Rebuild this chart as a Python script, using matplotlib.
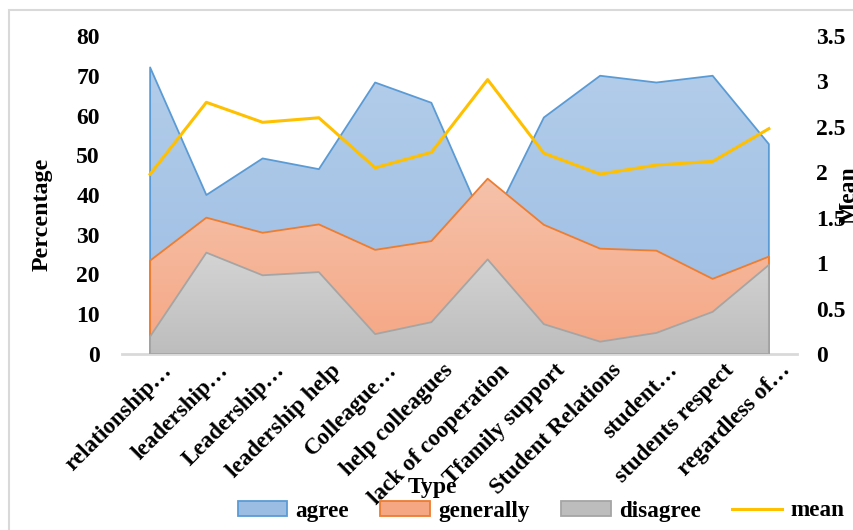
import numpy as np
import matplotlib.pyplot as plt
from matplotlib.patches import Rectangle
from matplotlib.colors import LinearSegmentedColormap
import matplotlib.transforms as mtransforms

plt.rcParams['font.family'] = ['Liberation Serif', 'DejaVu Serif']
plt.rcParams['font.weight'] = 'bold'

# data
categories = ['relationship…', 'leadership…', 'Leadership…', 'leadership help',
              'Colleague…', 'help colleagues', 'lack of cooperation', 'Tfamily support',
              'Student Relations', 'student…', 'students respect', 'regardless of…']
agree = [72.1, 40.0, 49.2, 46.5, 68.3, 63.2, 30.9, 59.5, 70.0, 68.3, 70.0, 52.8]
generally = [23.5, 34.3, 30.5, 32.6, 26.2, 28.4, 44.1, 32.5, 26.5, 26.0, 18.9, 24.5]
disagree = [4.4, 25.5, 19.8, 20.6, 5.0, 8.0, 23.8, 7.5, 3.1, 5.3, 10.6, 22.4]
mean = [1.98, 2.77, 2.55, 2.60, 2.05, 2.22, 3.02, 2.21, 1.98, 2.08, 2.12, 2.48]

left_ticks = [0, 10, 20, 30, 40, 50, 60, 70, 80]
right_ticks = [0, 0.5, 1, 1.5, 2, 2.5, 3, 3.5]
right_labels = ['0', '0.5', '1', '1.5', '2', '2.5', '3', '3.5']

series = [
    ('agree', agree, '#b3cdea', '#9bbce3', '#5b9bd5'),
    ('generally', generally, '#f6c2ab', '#f5a683', '#ed7d31'),
    ('disagree', disagree, '#d4d4d4', '#bdbdbd', '#a5a5a5'),
]

fig = plt.figure(figsize=(8.54, 5.30), dpi=100)
ax = fig.add_axes([122 / 854, 1 - 354 / 530, 675 / 854, 318 / 530])
x = np.arange(len(categories))


def grad_area(ax, x, y, c_top, c_bot, edge, z):
    poly = ax.fill_between(x, 0, y, facecolor='none', edgecolor=edge,
                           linewidth=1.3, zorder=z + 0.5)
    cmap = LinearSegmentedColormap.from_list('g', [c_bot, c_top])
    grad = np.linspace(0, 1, 256).reshape(-1, 1)
    img = ax.imshow(grad, cmap=cmap, origin='lower', aspect='auto',
                    extent=[x[0], x[-1], 0, max(y)], zorder=z)
    path = poly.get_paths()[0]
    img.set_clip_path(path, transform=ax.transData)
    return poly


handles = []
for i, (name, vals, ct, cb, ec) in enumerate(series):
    grad_area(ax, x, vals, ct, cb, ec, 1 + i)
    handles.append(Rectangle((0, 0), 1, 1, facecolor=cb, edgecolor=ec,
                             linewidth=1.3, label=name))

ax.set_xlim(-0.5, len(categories) - 0.5)
ax.set_ylim(0, 80)
ax.set_yticks(left_ticks)
ax.tick_params(axis='both', length=0, labelsize=17)
ax.tick_params(axis='y', pad=16)
for s in ['left', 'right', 'top']:
    ax.spines[s].set_visible(False)
ax.spines['bottom'].set_color('#d9d9d9')
ax.spines['bottom'].set_linewidth(2)
ax.spines['bottom'].set_zorder(0.5)

ax.set_xticks(x)
ax.set_xticklabels(categories, fontsize=16.7, rotation=45, ha='right',
                   rotation_mode='anchor', va='top')
offset = mtransforms.ScaledTranslation(11 / 100, -1 / 100, fig.dpi_scale_trans)
for lab in ax.get_xticklabels():
    lab.set_transform(lab.get_transform() + offset)

ax2 = ax.twinx()
ax2.plot(x, mean, color='#ffc000', linewidth=2.2, zorder=5)
ax2.set_ylim(0, 3.5)
ax2.set_yticks(right_ticks)
ax2.set_yticklabels(right_labels)
ax2.tick_params(axis='y', length=0, labelsize=17, pad=14)
for s in ax2.spines.values():
    s.set_visible(False)
handles.append(plt.Line2D([0], [0], color='#ffc000', linewidth=2.2, label='mean'))

fig.text(42 / 854, 1 - 214 / 530, 'Percentage', rotation=90, ha='center',
         va='center', fontsize=17.3, fontweight='bold')
fig.text(849 / 854, 1 - 195 / 530, 'Mean', rotation=90, ha='center',
         va='center', fontsize=17, fontweight='bold')
fig.text(432 / 854, 1 - 488 / 530, 'Type', ha='center', va='center',
         fontsize=17, fontweight='bold')

fig.legend(handles=handles, loc='center', ncol=4,
           bbox_to_anchor=(541 / 854, 1 - 511 / 530), frameon=False,
           fontsize=16.7, handlelength=2.15, handleheight=0.6,
           columnspacing=1.35, handletextpad=0.35)

# chart border
fig.patches.append(Rectangle((9 / 854, -0.1), 1.2, 1.1 - 10 / 530,
                             transform=fig.transFigure, facecolor='none',
                             edgecolor='#d9d9d9', linewidth=1.5))

fig.savefig('out.png', dpi=100)
